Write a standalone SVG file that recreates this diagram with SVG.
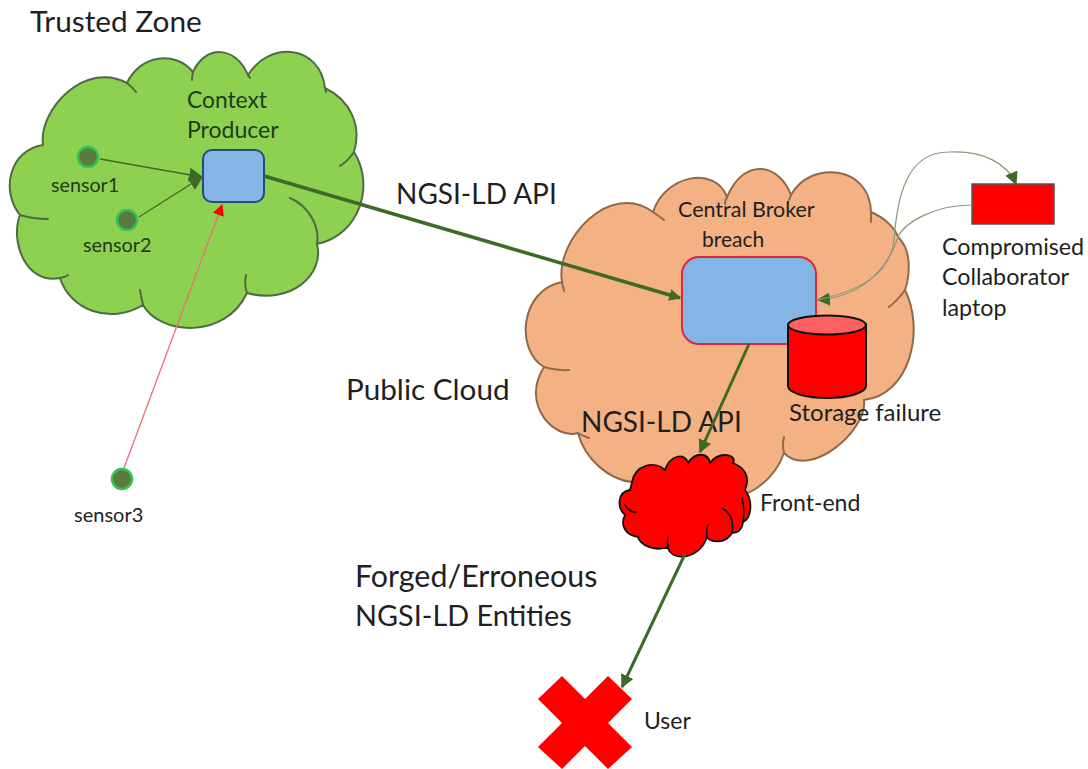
<svg xmlns="http://www.w3.org/2000/svg" width="1088" height="769" viewBox="0 0 1088 769">
<style>
text{font-family:Lato,"Open Sans","Liberation Sans",sans-serif;fill:#1f1f1f}
.gt{fill:#1d3d1c}
.in{fill:none;stroke-linecap:round}
.c{fill:none;stroke:#3d6a27}
.thin{fill:none;stroke:#8a9a78;stroke-width:1.2}
</style>
<defs>
<marker id="gb" viewBox="0 0 10 10" refX="9" refY="5" markerWidth="3.4" markerHeight="3.4" orient="auto" markerUnits="strokeWidth"><path d="M0 0L10 5L0 10z" fill="#3d6a27"/></marker>
<marker id="gs" viewBox="0 0 10 10" refX="9" refY="5" markerWidth="11" markerHeight="11" orient="auto" markerUnits="strokeWidth"><path d="M0 0L10 5L0 10z" fill="#3d6a27"/></marker>
<marker id="gm" viewBox="0 0 10 10" refX="9" refY="5" markerWidth="4.5" markerHeight="4.5" orient="auto" markerUnits="strokeWidth"><path d="M0 0L10 5L0 10z" fill="#3d6a27"/></marker>
<marker id="r" viewBox="0 0 10 10" refX="9" refY="5" markerWidth="9" markerHeight="9" orient="auto" markerUnits="strokeWidth"><path d="M0 0L10 5L0 10z" fill="#ff0000"/></marker>
</defs>
<rect width="1088" height="769" fill="#fff"/>

<g id="trusted-cloud">
<path d="M43 145C38 110 85 60 127 83C140 55 175 50 193 72C205 45 235 45 248 75C270 40 320 45 325 88C350 100 362 125 354 152C375 185 360 235 317 244C325 275 290 305 247 293C225 340 160 335 143 305C110 325 70 310 60 278C25 285 10 240 20 215C0 190 10 150 43 145Z" fill="#8ed04f" stroke="#4f6b45" stroke-width="2"/>
<path class="in" stroke="#4f6b45" stroke-width="2" d="M127 83Q132 87 136 92M193 72Q192 76 192 80M248 75L250 78M325 88L326 92M354 152Q349 160 340 166M290 198C308 206 320 225 317 244M247 293Q244 285 246 275M143 305Q141 296 140 290M60 278Q64 278 68 275M20 215Q33 219 48 219"/>
</g>
<g id="public-cloud">
<path d="M562 282C555 240 610 180 653 212C665 175 715 165 727 197C745 155 780 165 791 195C810 160 870 165 871 212C885 218 895 228 898 237C912 250 910 275 905 290C925 330 910 395 864 400C868 430 810 480 784 453C760 520 660 510 632 482C610 480 585 460 578 433C555 440 520 405 544 367C515 350 520 290 562 282Z" fill="#f4b183" stroke="#8e6a4a" stroke-width="2"/>
<path class="in" stroke="#8e6a4a" stroke-width="2" d="M562 282Q563 287 564 291M653 212Q659 216 664 220M727 197Q725 200 725 204M791 195L789 200M871 212L871 222M905 290Q898 300 889 307M784 453Q782 445 784 437M578 433Q583 436 589 438M544 367Q556 371 569 370"/>
</g>
<g id="frontend-cloud">
<path d="M632 482C635 465 655 460 665 470C670 455 685 452 688 463C695 452 708 452 710 463C720 450 738 455 733 463C746 468 750 478 745 490C753 500 752 518 743 522C742 530 738 533 732 533C725 545 710 542 707 537C700 560 670 562 668 547C655 552 640 545 638 537C625 535 620 525 625 515C617 508 617 492 630 490Z" fill="#ff0000" stroke="#111" stroke-width="1.8"/>
<path class="in" stroke="#111" stroke-width="1.6" d="M625 505Q630 513 636 512M732 533Q735 515 722 508M743 522Q745 510 742 498M707 537Q706 530 708 525M668 547Q667 542 668 537"/>
</g>
<g id="context-producer">
<rect x="203" y="150" width="61" height="52" rx="9" fill="#85b4e6" stroke="#1f4e79" stroke-width="2"/>
<text class="gt" x="187" y="108" style="font-size:22.800px">Context</text>
<text class="gt" x="187" y="138" style="font-size:23px">Producer</text>
</g>
<g id="sensor1"><circle cx="88" cy="157" r="10" fill="#5b7a3c" stroke="#2fc45a" stroke-width="2.500"/><text class="gt" x="51" y="192" style="font-size:19.700px">sensor1</text></g>
<g id="sensor2"><circle cx="127" cy="220" r="10" fill="#5b7a3c" stroke="#2fc45a" stroke-width="2.500"/><text class="gt" x="83" y="252" style="font-size:19.800px">sensor2</text></g>
<g id="sensor3"><circle cx="122" cy="479" r="10" fill="#5b7a3c" stroke="#2fc45a" stroke-width="2.500"/><text x="74" y="522" style="font-size:20px">sensor3</text></g>
<g id="broker">
<rect x="682" y="257" width="134" height="87" rx="17" fill="#85b4e6" stroke="#e0283c" stroke-width="2"/>
<text x="678" y="217" style="font-size:21.500px">Central Broker</text>
<text x="702" y="247" style="font-size:21px">breach</text>
</g>
<g id="storage">
<path d="M788 325V386A39 12 0 0 0 866 386V325Z" fill="#ff0000" stroke="#111" stroke-width="2"/>
<ellipse cx="827" cy="325" rx="39" ry="9.500" fill="#ff6060" stroke="#111" stroke-width="2"/>
<text x="789" y="421" style="font-size:24px">Storage failure</text>
</g>
<g id="laptop">
<rect x="972" y="184" width="82" height="40" fill="#ff0000" stroke="#555" stroke-width="1.500"/>
<text x="942" y="255" style="font-size:23.300px">Compromised</text>
<text x="942" y="285" style="font-size:23.300px">Collaborator</text>
<text x="942" y="316" style="font-size:23.300px">laptop</text>
</g>
<g id="user">
<path d="M562 676L585 699L608 676L632 699L608 723L632 747L608 769L585 746L562 769L538 747L562 723L538 699Z" fill="#ff0000"/>
<text x="644" y="729" style="font-size:23px">User</text>
</g>
<g id="labels">
<text x="30" y="32" style="font-size:29.800px">Trusted Zone</text>
<text x="396" y="204" style="font-size:28px">NGSI-LD API</text>
<text x="346" y="400" style="font-size:29.700px">Public Cloud</text>
<text x="581" y="432" style="font-size:28px">NGSI-LD API</text>
<text x="760" y="511" style="font-size:23px">Front-end</text>
<text x="355" y="587" style="font-size:30.400px">Forged/Erroneous</text>
<text x="355" y="626" style="font-size:28.800px">NGSI-LD Entities</text>
</g>
<g id="connectors">
<path class="c" stroke-width="1.3" d="M100 159L202 177" marker-end="url(#gs)"/>
<path class="c" stroke-width="1.3" d="M139 217L202 177" marker-end="url(#gs)"/>
<path fill="none" stroke="#e8707a" stroke-width="1.3" d="M124 468L222 205" marker-end="url(#r)"/>
<path class="c" stroke-width="3.500" d="M264 176L680 298" marker-end="url(#gb)"/>
<path class="c" stroke-width="3" d="M749 344L700 452" marker-end="url(#gm)"/>
<path class="c" stroke-width="3" d="M685 554L622 687" marker-end="url(#gm)"/>
<path class="thin" d="M972 205C935 205 905 222 898 237C890 262 868 296 818 300" marker-end="url(#gs)"/>
<path class="thin" d="M818 300C860 290 890 275 894 240C897 200 905 152 949 152C985 150 1008 165 1016 184" marker-end="url(#gs)"/>
</g>
</svg>
